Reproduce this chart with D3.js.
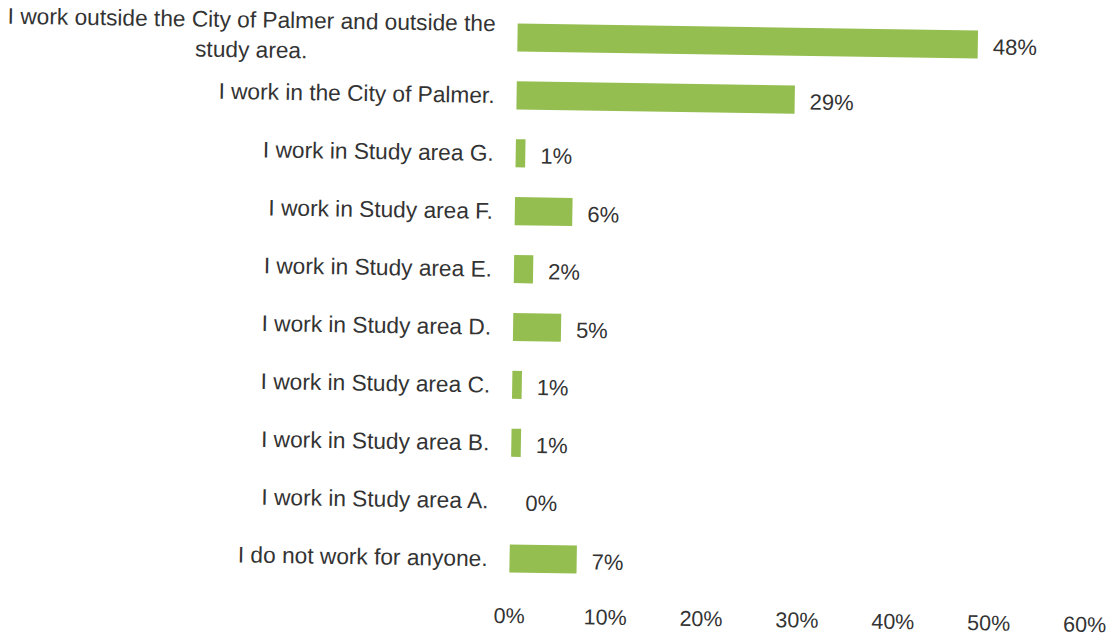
<!DOCTYPE html>
<html>
<head>
<meta charset="utf-8">
<script src="https://cdn.jsdelivr.net/npm/d3@7"></script>
<style>
  html, body { margin: 0; padding: 0; background: #ffffff; }
  svg { display: block; }
  text { font-family: "Liberation Sans", Arial, Helvetica, sans-serif; fill: #333333; }
</style>
</head>
<body>
<svg id="chart" width="1112" height="637"></svg>
<script>
// Where respondents work (share of responses), top to bottom
const categories = [
  ["I work outside the City of Palmer and outside the", "study area."],
  ["I work in the City of Palmer."],
  ["I work in Study area G."],
  ["I work in Study area F."],
  ["I work in Study area E."],
  ["I work in Study area D."],
  ["I work in Study area C."],
  ["I work in Study area B."],
  ["I work in Study area A."],
  ["I do not work for anyone."]
];
const values = [48, 29, 1, 6, 2, 5, 1, 1, 0, 7];
const tickValues = [0, 10, 20, 30, 40, 50, 60];
const tickLabels = ["0%", "10%", "20%", "30%", "40%", "50%", "60%"];

const svg = d3.select("#chart");
const W = 1112, H = 637;
svg.append("rect").attr("width", W).attr("height", H).attr("fill", "#ffffff");

// The printed page sits at a slight clockwise tilt
const g = svg.append("g").attr("transform", "rotate(0.87, 514, 300)");

const x = d3.scaleLinear().domain([0, 60]).range([513.5, 1089]);
const y = d3.scaleBand()
  .domain(d3.range(categories.length))
  .range([8.5, 587.5])
  .paddingInner(0.515)
  .paddingOuter(0.2575);

const barColor = "#95be50";

// Bars
g.selectAll("rect.bar")
  .data(values)
  .join("rect")
  .attr("class", "bar")
  .attr("x", x(0))
  .attr("y", (d, i) => y(i))
  .attr("width", d => x(d) - x(0))
  .attr("height", y.bandwidth())
  .attr("fill", barColor);

// Value labels
g.selectAll("text.value")
  .data(values)
  .join("text")
  .attr("class", "value")
  .attr("x", d => x(d) + 15)
  .attr("y", (d, i) => y(i) + y.bandwidth() / 2 + 9.8)
  .attr("font-size", 22)
  .text(d => d + "%");

// Category labels: block right-aligned, wrapped lines centred on the first
const labelRight = 491.5;
const labelSize = 22.7;
const lineGap = 30;
categories.forEach((lines, i) => {
  const cy = y(i) + y.bandwidth() / 2;
  const top = cy + 8 + (lines.length > 1 ? 1 : 0) - (lines.length - 1) * lineGap / 2;
  const t = g.append("text")
    .attr("class", "cat")
    .attr("font-size", labelSize);
  const first = t.append("tspan")
    .attr("x", labelRight)
    .attr("y", top)
    .attr("text-anchor", "end")
    .text(lines[0]);
  const w = first.node().getComputedTextLength();
  const mid = labelRight - w / 2;
  lines.slice(1).forEach((ln, k) => {
    t.append("tspan")
      .attr("x", mid)
      .attr("y", top + (k + 1) * lineGap)
      .attr("text-anchor", "middle")
      .text(ln);
  });
});

// Horizontal axis: labels only, no line or tick marks
const axis = d3.axisBottom(x)
  .tickValues(tickValues)
  .tickFormat((d, i) => tickLabels[i])
  .tickSize(0);
const ax = g.append("g").attr("class", "x-axis").call(axis);
ax.select(".domain").remove();
ax.selectAll("text")
  .attr("y", 623.2)
  .attr("dy", 0)
  .attr("font-size", 21.5)
  .attr("fill", "#333333")
  .style("font-family", '"Liberation Sans", Arial, Helvetica, sans-serif');
ax.attr("font-size", null).attr("font-family", null);
</script>
</body>
</html>
